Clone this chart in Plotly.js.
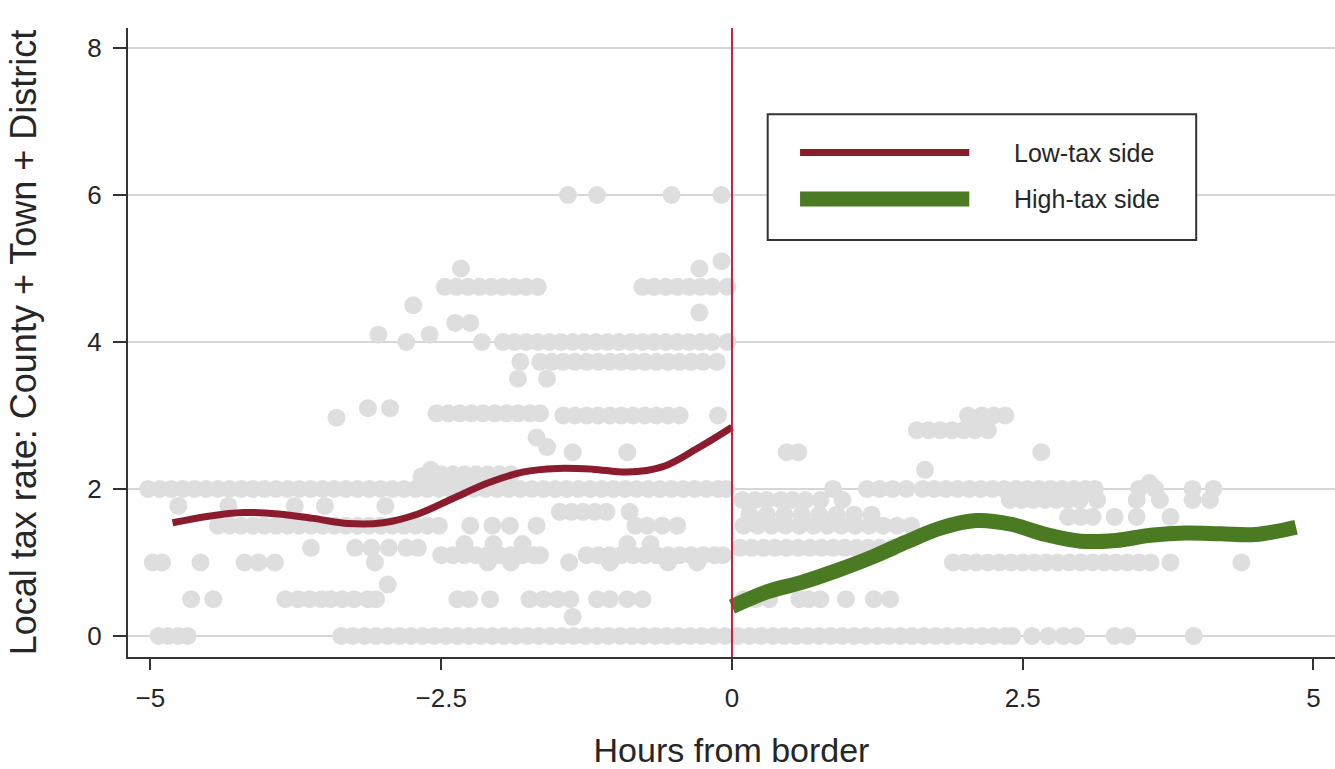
<!DOCTYPE html>
<html>
<head>
<meta charset="utf-8">
<script src="https://cdn.plot.ly/plotly-3.0.1.min.js"></script>
<style>html,body{margin:0;padding:0;background:#fff;}#chart{width:1335px;height:769px;}</style>
</head>
<body>
<div id="chart"></div>
<script>
// ---- Scatter of observations: one list of x (hours from border) per tax-rate level ----
const dotLevels = [0, 0.26, 0.5, 0.7, 1.0, 1.1, 1.2, 1.25, 1.5, 1.62, 1.65, 1.69, 1.77, 1.85, 2.0, 2.08, 2.17, 2.2, 2.26, 2.5, 2.57, 2.7, 2.8, 2.97, 3.0, 3.03, 3.1, 3.5, 3.73, 4.0, 4.1, 4.26, 4.4, 4.5, 4.75, 5.0, 5.1, 6.0];
const dotXs = [
  /* 0    */ [-4.93,-4.85,-4.76,-4.68,-3.36,-3.26,-3.16,-3.06,-2.96,-2.86,-2.76,-2.66,-2.56,-2.46,-2.36,-2.26,-2.16,-2.06,-1.96,-1.86,-1.76,-1.66,-1.56,-1.46,-1.36,-1.26,-1.16,-1.06,-0.96,-0.86,-0.76,-0.66,-0.56,-0.46,-0.36,-0.26,-0.16,-0.06,0.05,0.15,0.25,0.35,0.45,0.55,0.65,0.75,0.85,0.95,1.05,1.15,1.25,1.35,1.45,1.55,1.65,1.75,1.85,1.95,2.05,2.15,2.25,2.35,2.41,2.58,2.72,2.85,2.96,3.29,3.40,3.97],
  /* 0.26 */ [-1.37],
  /* 0.5  */ [-4.65,-4.46,-3.84,-3.73,-3.63,-3.53,-3.45,-3.35,-3.25,-3.13,-3.06,-2.36,-2.26,-2.08,-1.74,-1.62,-1.50,-1.39,-1.16,-1.05,-0.90,-0.77,0.10,0.20,0.32,0.58,0.66,0.76,0.98,1.22,1.36],
  /* 0.7  */ [-2.96],
  /* 1.0  */ [-4.98,-4.90,-4.57,-4.19,-4.07,-3.93,-3.07,-2.10,-1.90,-1.40,-1.05,-0.55,-0.30,1.90,2.00,2.10,2.20,2.30,2.40,2.50,2.60,2.70,2.80,2.90,3.00,3.10,3.20,3.30,3.40,3.50,3.60,3.77,4.38],
  /* 1.1  */ [-2.50,-2.40,-2.30,-2.20,-2.10,-2.00,-1.90,-1.80,-1.70,-1.65,-1.25,-1.15,-1.05,-0.95,-0.85,-0.75,-0.65,-0.55,-0.45,-0.35,-0.25,-0.15,-0.08],
  /* 1.2  */ [-3.62,-3.24,-3.10,-2.95,-2.80,-2.70,0.07,0.17,0.27,0.37,0.47,0.57,0.67,0.77,0.87,0.97,1.07,1.17,1.27,1.38],
  /* 1.25 */ [-2.30,-2.05,-1.80,-0.90,-0.70],
  /* 1.5  */ [-4.42,-4.32,-4.22,-4.12,-4.02,-3.92,-3.82,-3.72,-3.62,-3.52,-3.42,-3.32,-3.22,-3.12,-3.02,-2.92,-2.82,-2.72,-2.62,-2.52,-2.25,-2.06,-1.91,-1.68,-0.83,-0.73,-0.60,-0.47,0.10,0.22,0.34,0.46,0.58,0.70,0.82,0.94,1.06,1.18,1.30,1.42,1.54],
  /* 1.62 */ [2.89,3.00,3.10,3.29,3.48,3.77],
  /* 1.65 */ [0.15,0.30,0.45,0.60,0.75,0.90,1.05,1.20],
  /* 1.69 */ [-1.48,-1.38,-1.28,-1.18,-1.08,-0.88],
  /* 1.77 */ [-4.76,-4.33,-3.76,-3.50,-2.98],
  /* 1.85 */ [0.09,0.20,0.30,0.42,0.52,0.63,0.76,0.95,2.39,2.49,2.59,2.69,2.79,2.89,2.99,3.14,3.48,3.68,3.96,4.11],
  /* 2.0  */ [-5.02,-4.92,-4.82,-4.72,-4.62,-4.52,-4.42,-4.32,-4.22,-4.12,-4.02,-3.92,-3.82,-3.72,-3.62,-3.52,-3.42,-3.32,-3.22,-3.12,-3.02,-2.92,-2.82,-2.72,-2.62,-2.52,-2.42,-2.32,-2.22,-2.12,-2.02,-1.92,-1.82,-1.72,-1.62,-1.52,-1.42,-1.32,-1.22,-1.12,-1.02,-0.92,-0.82,-0.72,-0.62,-0.52,-0.42,-0.32,-0.22,-0.12,-0.05,0.87,1.16,1.27,1.38,1.50,1.64,1.74,1.84,1.94,2.04,2.14,2.24,2.34,2.44,2.54,2.64,2.74,2.84,2.94,3.04,3.12,3.50,3.64,3.96,4.14],
  /* 2.08 */ [3.59],
  /* 2.17 */ [-2.67],
  /* 2.2  */ [-2.60,-2.50,-2.40,-2.30,-2.20,-2.10,-2.00,-1.90],
  /* 2.26 */ [-2.59,1.66],
  /* 2.5  */ [-1.37,-0.90,0.47,0.57,2.66],
  /* 2.57 */ [-1.59],
  /* 2.7  */ [-1.68],
  /* 2.8  */ [1.59,1.69,1.79,1.89,1.99,2.09,2.20],
  /* 2.97 */ [-3.40],
  /* 3.0  */ [-1.45,-1.35,-1.25,-1.15,-1.05,-0.95,-0.85,-0.75,-0.65,-0.55,-0.45,-0.12,2.03,2.15,2.25,2.35],
  /* 3.03 */ [-2.54,-2.44,-2.34,-2.24,-2.14,-2.04,-1.94,-1.84,-1.74,-1.65],
  /* 3.1  */ [-3.13,-2.94],
  /* 3.5  */ [-1.84,-1.59],
  /* 3.73 */ [-1.82,-1.65,-1.55,-1.45,-1.35,-1.25,-1.15,-1.05,-0.95,-0.85,-0.75,-0.65,-0.55,-0.45,-0.35,-0.25,-0.13],
  /* 4.0  */ [-2.80,-2.15,-1.97,-1.87,-1.77,-1.67,-1.57,-1.47,-1.37,-1.27,-1.17,-1.07,-0.97,-0.87,-0.77,-0.67,-0.57,-0.47,-0.37,-0.27,-0.17,-0.04],
  /* 4.1  */ [-3.04,-2.60],
  /* 4.26 */ [-2.38,-2.25],
  /* 4.4  */ [-0.28],
  /* 4.5  */ [-2.74],
  /* 4.75 */ [-2.47,-2.37,-2.27,-2.17,-2.07,-1.97,-1.87,-1.77,-1.67,-0.77,-0.67,-0.57,-0.47,-0.37,-0.27,-0.17,-0.04],
  /* 5.0  */ [-2.33,-0.28],
  /* 5.1  */ [-0.09],
  /* 6.0  */ [-1.41,-1.16,-0.52,-0.09]
];

// ---- Fitted curves ----
const lowX = [-4.81,-4.5,-4.2,-3.9,-3.6,-3.3,-3.0,-2.7,-2.4,-2.1,-1.8,-1.5,-1.2,-0.9,-0.6,-0.3,0];
const lowY = [1.54,1.63,1.68,1.66,1.60,1.53,1.54,1.66,1.87,2.08,2.23,2.28,2.27,2.23,2.30,2.55,2.84];
const highX = [0,0.3,0.6,0.9,1.2,1.5,1.8,2.1,2.4,2.7,3.0,3.3,3.6,3.9,4.2,4.5,4.85];
const highY = [0.40,0.60,0.73,0.89,1.07,1.28,1.47,1.57,1.52,1.38,1.29,1.30,1.37,1.40,1.39,1.38,1.48];

const seriesNames = ["Low-tax side", "High-tax side"];
const xTicks = [-5, -2.5, 0, 2.5, 5];
const yTicks = [0, 2, 4, 6, 8];

// flatten scatter table for the library
const dotsX = [], dotsY = [];
dotLevels.forEach((lv, i) => dotXs[i].forEach(x => { dotsX.push(x); dotsY.push(lv); }));

const FONT = "Liberation Sans, Arial, Helvetica, sans-serif";
const TXT = "#262626";
const RED = "#8a1c2e";
const GREEN = "#4a7a22";
const VLINE = "#c8203c";

const traces = [
  {x: dotsX, y: dotsY, type: "scatter", mode: "markers", showlegend: false, hoverinfo: "skip",
   marker: {size: 18, color: "#dedede", line: {width: 0}}},
  {x: lowX, y: lowY, type: "scatter", mode: "lines", name: seriesNames[0], showlegend: false,
   line: {color: RED, width: 7, shape: "spline", smoothing: 1}},
  {x: highX, y: highY, type: "scatter", mode: "lines", name: seriesNames[1], showlegend: false,
   line: {color: GREEN, width: 15, shape: "spline", smoothing: 1}}
];

// legend box (custom, to get long Stata-style keys)
const L = {x0: 0.530, x1: 0.885, y0: 0.663, y1: 0.863, kx0: 0.5568, kx1: 0.697, ty: [0.802, 0.728]};

const layout = {
  width: 1335, height: 769,
  margin: {l: 128, r: 0, t: 28, b: 112},
  paper_bgcolor: "#ffffff", plot_bgcolor: "#ffffff",
  font: {family: FONT, color: TXT},
  showlegend: false,
  xaxis: {
    range: [-5.193, 5.185], tickvals: xTicks, ticks: "outside", ticklen: 11, tickwidth: 2, tickcolor: "#333",
    showline: true, linecolor: "#333", linewidth: 2, showgrid: false, zeroline: false,
    ticklabelstandoff: 6,
    tickfont: {size: 26, family: FONT, color: TXT},
    title: {text: "Hours from border", font: {size: 34, family: FONT, color: TXT}, standoff: 26}
  },
  yaxis: {
    range: [-0.286, 8.272], tickvals: yTicks, ticks: "outside", ticklen: 13, tickwidth: 2, tickcolor: "#333",
    showline: true, linecolor: "#333", linewidth: 2, showgrid: true, gridcolor: "#d6d6d6", gridwidth: 1.5,
    zeroline: false, ticklabelstandoff: 6,
    tickfont: {size: 26, family: FONT, color: TXT},
    title: {text: "Local tax rate: County + Town + District", font: {size: 36, family: FONT, color: TXT}, standoff: 40}
  },
  shapes: [
    {type: "line", xref: "x", yref: "paper", x0: 0, x1: 0, y0: 0, y1: 1, line: {color: VLINE, width: 2}, layer: "above"},
    {type: "rect", xref: "paper", yref: "paper", x0: L.x0, x1: L.x1, y0: L.y0, y1: L.y1,
     line: {color: "#333", width: 2}, fillcolor: "#ffffff", layer: "above"},
    {type: "line", xref: "paper", yref: "paper", x0: L.kx0, x1: L.kx1, y0: L.ty[0], y1: L.ty[0], line: {color: RED, width: 7}, layer: "above"},
    {type: "line", xref: "paper", yref: "paper", x0: L.kx0, x1: L.kx1, y0: L.ty[1], y1: L.ty[1], line: {color: GREEN, width: 15}, layer: "above"}
  ],
  annotations: seriesNames.map((n, i) => ({
    text: n, xref: "paper", yref: "paper", x: 0.7324, y: L.ty[i], xanchor: "left", yanchor: "middle",
    showarrow: false, font: {size: 25, family: FONT, color: TXT}
  }))
};

Plotly.newPlot("chart", traces, layout, {displayModeBar: false, staticPlot: true});
</script>
</body>
</html>
